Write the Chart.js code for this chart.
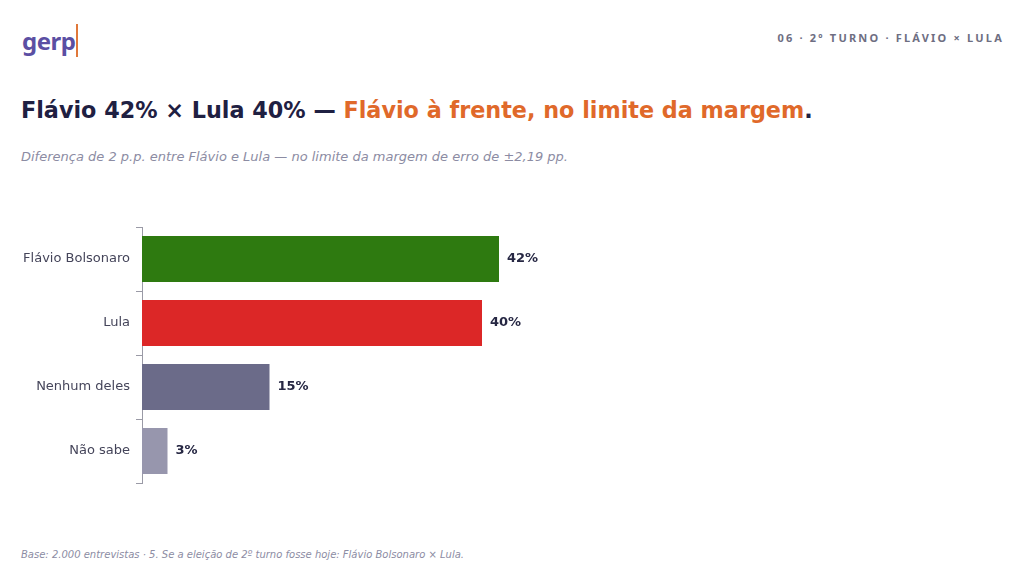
<!DOCTYPE html>
<html>
<head>
<meta charset="utf-8">
<script src="https://cdn.jsdelivr.net/npm/chart.js@4"></script>
<style>
  html, body { margin: 0; padding: 0; background: #fff; }
  body { width: 1024px; height: 576px; position: relative; overflow: hidden; font-family: "DejaVu Sans", sans-serif; }
  .logo { position: absolute; left: 22px; top: 24px; font-family: "Noto Sans", sans-serif; font-size: 24px; font-weight: 700; color: #5b4fa3; letter-spacing: -0.5px; }
  .logo span { color: #5b4fa3; border-right: 2px solid #e0783a; padding-right: 1px; }
  .tag { position: absolute; right: 20px; top: 30px; font-family: "Noto Sans", sans-serif; font-size: 11px; font-weight: 700; color: #6e6e82; letter-spacing: 2.2px; }
  .title { position: absolute; left: 21px; top: 97px; font-size: 22.3px; font-weight: 700; color: #1f2042; white-space: nowrap; }
  .title .hl { color: #e0692a; }
  .sub { position: absolute; left: 21px; top: 149px; font-size: 13px; font-style: italic; color: #8c8ca3; white-space: nowrap; }
  .foot { position: absolute; left: 21px; top: 549px; font-size: 10px; font-style: italic; color: #8c8ca3; white-space: nowrap; }
  #wrap { position: absolute; left: 0; top: 210px; width: 1024px; height: 290px; }
</style>
</head>
<body>
<div class="logo">ger<span>p</span></div>
<div class="tag">06 · 2º TURNO · FLÁVIO × LULA</div>
<div class="title">Flávio 42% × Lula 40% — <span class="hl">Flávio à frente, no limite da margem</span>.</div>
<div class="sub">Diferença de 2 p.p. entre Flávio e Lula — no limite da margem de erro de ±2,19 pp.</div>
<div class="foot">Base: 2.000 entrevistas · 5. Se a eleição de 2º turno fosse hoje: Flávio Bolsonaro × Lula.</div>
<div id="wrap"><canvas id="chart"></canvas></div>

<script>
// chart data
const categories = ['Flávio Bolsonaro', 'Lula', 'Nenhum deles', 'Não sabe'];
const values = [42, 40, 15, 3];
const barColors = ['#2e7a10', '#dc2727', '#6b6b89', '#9796ad'];

// draws "42%" etc. just past the end of each bar
const valueLabels = {
  id: 'valueLabels',
  afterDatasetsDraw(chart) {
    const ctx = chart.ctx;
    const meta = chart.getDatasetMeta(0);
    ctx.save();
    ctx.font = 'bold 13px "DejaVu Sans", sans-serif';
    ctx.fillStyle = '#262743';
    ctx.textAlign = 'left';
    ctx.textBaseline = 'middle';
    meta.data.forEach((bar, i) => {
      ctx.fillText(values[i] + '%', bar.x + 8, bar.y);
    });
    ctx.restore();
  }
};

new Chart(document.getElementById('chart'), {
  type: 'bar',
  data: {
    labels: categories,
    datasets: [{
      data: values,
      backgroundColor: barColors,
      borderWidth: 0,
      barPercentage: 0.72,
      categoryPercentage: 1
    }]
  },
  options: {
    indexAxis: 'y',
    responsive: true,
    maintainAspectRatio: false,
    animation: false,
    layout: { padding: { top: 17, bottom: 17, right: 32, left: 0 } },
    plugins: { legend: { display: false }, tooltip: { enabled: false } },
    scales: {
      x: { display: false, min: 0, max: 100 },
      y: {
        afterFit: (scale) => { scale.width = 142; },
        border: { display: true, color: '#9a9aa6', width: 1 },
        grid: { offset: true, drawOnChartArea: false, drawTicks: true, tickLength: 6, color: '#9a9aa6' },
        ticks: { color: '#45455a', padding: 6, font: { family: '"DejaVu Sans", sans-serif', size: 13 } }
      }
    }
  },
  plugins: [valueLabels]
});
</script>
</body>
</html>
